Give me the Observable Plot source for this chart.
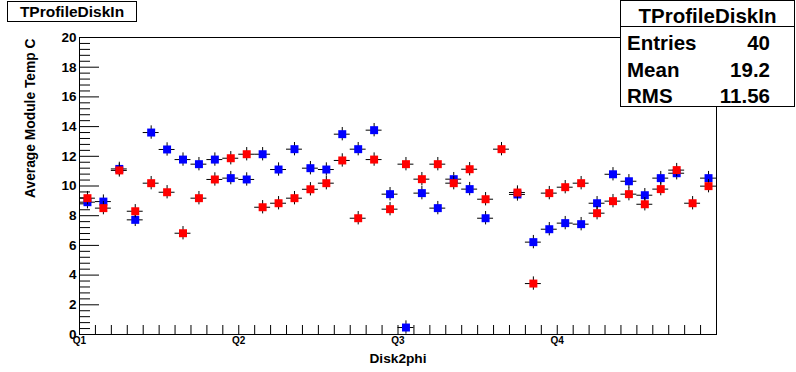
<!DOCTYPE html>
<html>
<head>
<meta charset="utf-8">
<script src="https://cdn.jsdelivr.net/npm/d3@7"></script>
<script src="https://cdn.jsdelivr.net/npm/@observablehq/plot@0.6"></script>
<style>
  html, body { margin: 0; padding: 0; background: white; }
  #wrap { position: relative; width: 796px; height: 372px; font-family: "Liberation Sans", Arial, sans-serif; font-weight: bold; color: black; }
  #wrap svg { position: absolute; left: 0; top: 0; }
  .box { position: absolute; background: white; border: 1px solid black; box-sizing: border-box; }
  .t { position: absolute; line-height: 1; white-space: nowrap; }
</style>
</head>
<body>
<div id="wrap"></div>
<script>
// ---- data ----
const binIndex = [0,1,2,3,4,5,6,7,8,9,10,11,12,13,14,15,16,17,18,19,20,21,22,23,24,25,26,27,28,29,30,31,32,33,34,35,36,37,38,39];
const blueTemp = [8.91,8.95,11.15,7.72,13.60,12.46,11.78,11.47,11.78,10.53,10.44,12.14,11.11,12.48,11.20,11.11,13.49,12.48,13.76,9.45,0.47,9.52,8.51,10.46,9.79,7.83,null,9.43,6.22,7.09,7.50,7.43,8.84,10.79,10.32,9.38,10.53,10.86,null,10.53];
const redTemp  = [9.18,8.51,11.05,8.30,10.19,9.58,6.82,9.18,10.44,11.87,12.14,8.57,8.84,9.18,9.78,10.19,11.72,7.83,11.78,8.44,11.47,10.46,11.47,10.19,11.13,9.11,12.48,9.56,3.43,9.52,9.92,10.19,8.17,8.98,9.45,8.77,9.79,11.07,8.84,9.99];
const tempErr = 0.45;
const xTickPos = [0,10,20,30];
const xTickLabels = ["Q1","Q2","Q3","Q4"];
const yMajor = [0,2,4,6,8,10,12,14,16,18,20];
const xTitle = "Disk2phi";
const yTitle = "Average Module Temp C";
const histTitle = "TProfileDiskIn";
const statNames = ["Entries","Mean","RMS"];
const statValues = ["40","19.2","11.56"];

const yMinor = d3.range(0, 20.001, 0.4).filter(v => Math.abs(v/2 - Math.round(v/2)) > 1e-6);
const xMinor = d3.range(0, 41, 1);

const rows = (vals) => binIndex.map((b, i) => ({b, v: vals[i]})).filter(d => d.v != null);
const blue = rows(blueTemp), red = rows(redTemp);

function series(data, color) {
  return [
    Plot.ruleY(data, {y: "v", x1: "b", x2: d => d.b + 1, stroke: "black", strokeWidth: 1}),
    Plot.ruleX(data, {x: d => d.b + 0.5, y1: d => Math.max(0, d.v - tempErr), y2: d => d.v + tempErr, stroke: "black", strokeWidth: 1}),
    Plot.dot(data, {x: d => d.b + 0.5, y: "v", symbol: "square", r: 4.5, fill: color})
  ];
}

const chart = Plot.plot({
  width: 796, height: 372,
  marginLeft: 79, marginRight: 80, marginTop: 37, marginBottom: 38,
  x: {domain: [0, 40], label: null},
  y: {domain: [0, 20], label: null},
  style: {background: "white", color: "black", fontFamily: "Liberation Sans, Arial, sans-serif", fontWeight: "bold"},
  marks: [
    // inward y ticks
    Plot.axisY({ticks: yMajor, tickSize: 20, dx: 20, tickFormat: () => "", label: null}),
    Plot.axisY({ticks: yMinor, tickSize: 11, dx: 11, tickFormat: () => "", label: null}),
    Plot.axisY({ticks: yMajor, tickSize: 0, tickPadding: 3, fontSize: 13.5, fontWeight: "bold", label: null}),
    // inward x ticks
    Plot.axisX({ticks: xMinor, tickSize: 9, dy: -9, tickFormat: () => "", label: null}),
    Plot.axisX({ticks: xTickPos, tickSize: 0, tickPadding: 2, tickFormat: d => xTickLabels[xTickPos.indexOf(d)], fontSize: 10, fontWeight: "bold", label: null}),
    ...series(blue, "#0000ff"),
    ...series(red, "#ff0000"),
    Plot.frame({stroke: "black"}),
    Plot.text([yTitle], {text: d => d, frameAnchor: "top-left", dx: -49, dy: 1, rotate: -90, textAnchor: "end", lineAnchor: "middle", fontSize: 13.8, fontWeight: "bold"}),
    Plot.text([xTitle], {text: d => d, frameAnchor: "bottom", dy: 19, lineAnchor: "top", fontSize: 13.7, fontWeight: "bold"})
  ]
});

const wrap = document.getElementById("wrap");
wrap.appendChild(chart);

// title box (top-left)
const tb = document.createElement("div");
tb.className = "box";
Object.assign(tb.style, {left: "7px", top: "1px", width: "130px", height: "21px"});
const tt = document.createElement("div");
tt.className = "t";
Object.assign(tt.style, {left: "0", right: "0", top: "2px", textAlign: "center", fontSize: "15.5px"});
tt.textContent = histTitle;
tb.appendChild(tt);
wrap.appendChild(tb);

// stats box (top-right)
const sb = document.createElement("div");
sb.className = "box";
Object.assign(sb.style, {left: "620px", top: "0px", width: "175px", height: "107px"});
const st = document.createElement("div");
st.className = "t";
Object.assign(st.style, {left: "0", right: "0", top: "4.5px", textAlign: "center", fontSize: "20.5px"});
st.textContent = histTitle;
sb.appendChild(st);
const sep = document.createElement("div");
Object.assign(sep.style, {position: "absolute", left: "0", right: "0", top: "25px", height: "0", borderTop: "1px solid black"});
sb.appendChild(sep);
const rowTops = [31.5, 58.5, 84.5];
statNames.forEach((n, i) => {
  const a = document.createElement("div");
  a.className = "t";
  Object.assign(a.style, {left: "6px", top: rowTops[i] + "px", fontSize: "20.5px"});
  a.textContent = n;
  const b = document.createElement("div");
  b.className = "t";
  Object.assign(b.style, {right: "24px", top: rowTops[i] + "px", fontSize: "20.5px", textAlign: "right"});
  b.textContent = statValues[i];
  sb.appendChild(a); sb.appendChild(b);
});
wrap.appendChild(sb);
</script>
</body>
</html>
